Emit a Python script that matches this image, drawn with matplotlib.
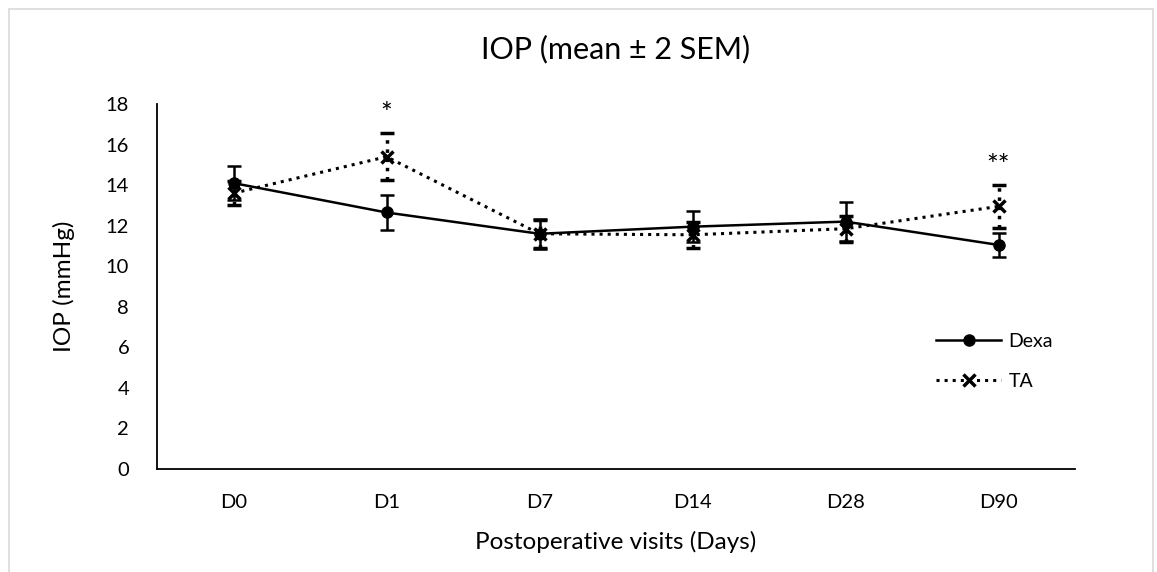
import matplotlib
matplotlib.use("Agg")
from matplotlib import pyplot as plt
from matplotlib.patches import Rectangle
from matplotlib.lines import Line2D

visits = ["D0", "D1", "D7", "D14", "D28", "D90"]
dexa = [14.1, 12.65, 11.6, 11.95, 12.2, 11.05]
dexa_err = [0.85, 0.85, 0.75, 0.75, 0.95, 0.6]
ta = [13.6, 15.4, 11.6, 11.55, 11.85, 12.95]
ta_err = [0.6, 1.15, 0.7, 0.65, 0.65, 1.05]
marks = {"D1": "*", "D90": "**"}

plt.rcParams["font.family"] = ["Lato", "DejaVu Sans"]

fig = plt.figure(figsize=(11.57, 5.72), dpi=100)
fig.patches.append(Rectangle((9 / 1157, -0.01), 1144 / 1157, 1 - 9 / 572 + 0.01,
                             transform=fig.transFigure, fill=False,
                             edgecolor="#d9d9d9", linewidth=1.2))
ax = fig.add_axes([157 / 1157, 1 - 469 / 572, (1075 - 157) / 1157, (469 - 104) / 572])

x = list(range(len(visits)))

ax.errorbar(x, dexa, yerr=dexa_err, color="black", linestyle="-", linewidth=1.8,
            marker="o", markersize=8, capsize=5, capthick=1.8, elinewidth=1.8)
eb2 = ax.errorbar(x, ta, yerr=ta_err, color="black", linestyle=":", linewidth=2.2,
                  marker="x", markersize=9, markeredgewidth=2.5, capsize=5,
                  capthick=2.5, elinewidth=2.5)
for lc in eb2[2]:
    lc.set_linestyle(":")

for i, v in enumerate(visits):
    if v in marks:
        ax.text(i, ta[i] + ta_err[i] + 0.25, marks[v], ha="center", va="bottom",
                fontsize=20)

ax.set_xlim(-0.5, len(visits) - 0.5)
ax.set_ylim(0, 18)
ax.set_yticks(range(0, 19, 2))
ax.set_xticks(x)
ax.set_xticklabels(visits)
ax.tick_params(axis="both", length=0, labelsize=14.5)
ax.tick_params(axis="x", pad=18)
ax.tick_params(axis="y", pad=20)
for s in ["top", "right"]:
    ax.spines[s].set_visible(False)
ax.spines["left"].set_linewidth(1.3)
ax.spines["bottom"].set_linewidth(1.3)

ax.set_title("IOP (mean ± 2 SEM)", fontsize=22, pad=33)
ax.set_ylabel("IOP (mmHg)", fontsize=17.5, labelpad=22)
ax.set_xlabel("Postoperative visits (Days)", fontsize=17.5, labelpad=14)

handles = [
    Line2D([], [], color="black", linestyle="-", linewidth=1.8, marker="o", markersize=8),
    Line2D([], [], color="black", linestyle=":", linewidth=2.2, marker="x",
           markersize=9, markeredgewidth=2.5),
]
ax.legend(handles, ["Dexa", "TA"], loc="center left", bbox_to_anchor=(0.83, 0.295),
          frameon=False, fontsize=14, handlelength=3.3, labelspacing=1.2,
          handletextpad=0.4)

fig.savefig("out.png", dpi=100)
